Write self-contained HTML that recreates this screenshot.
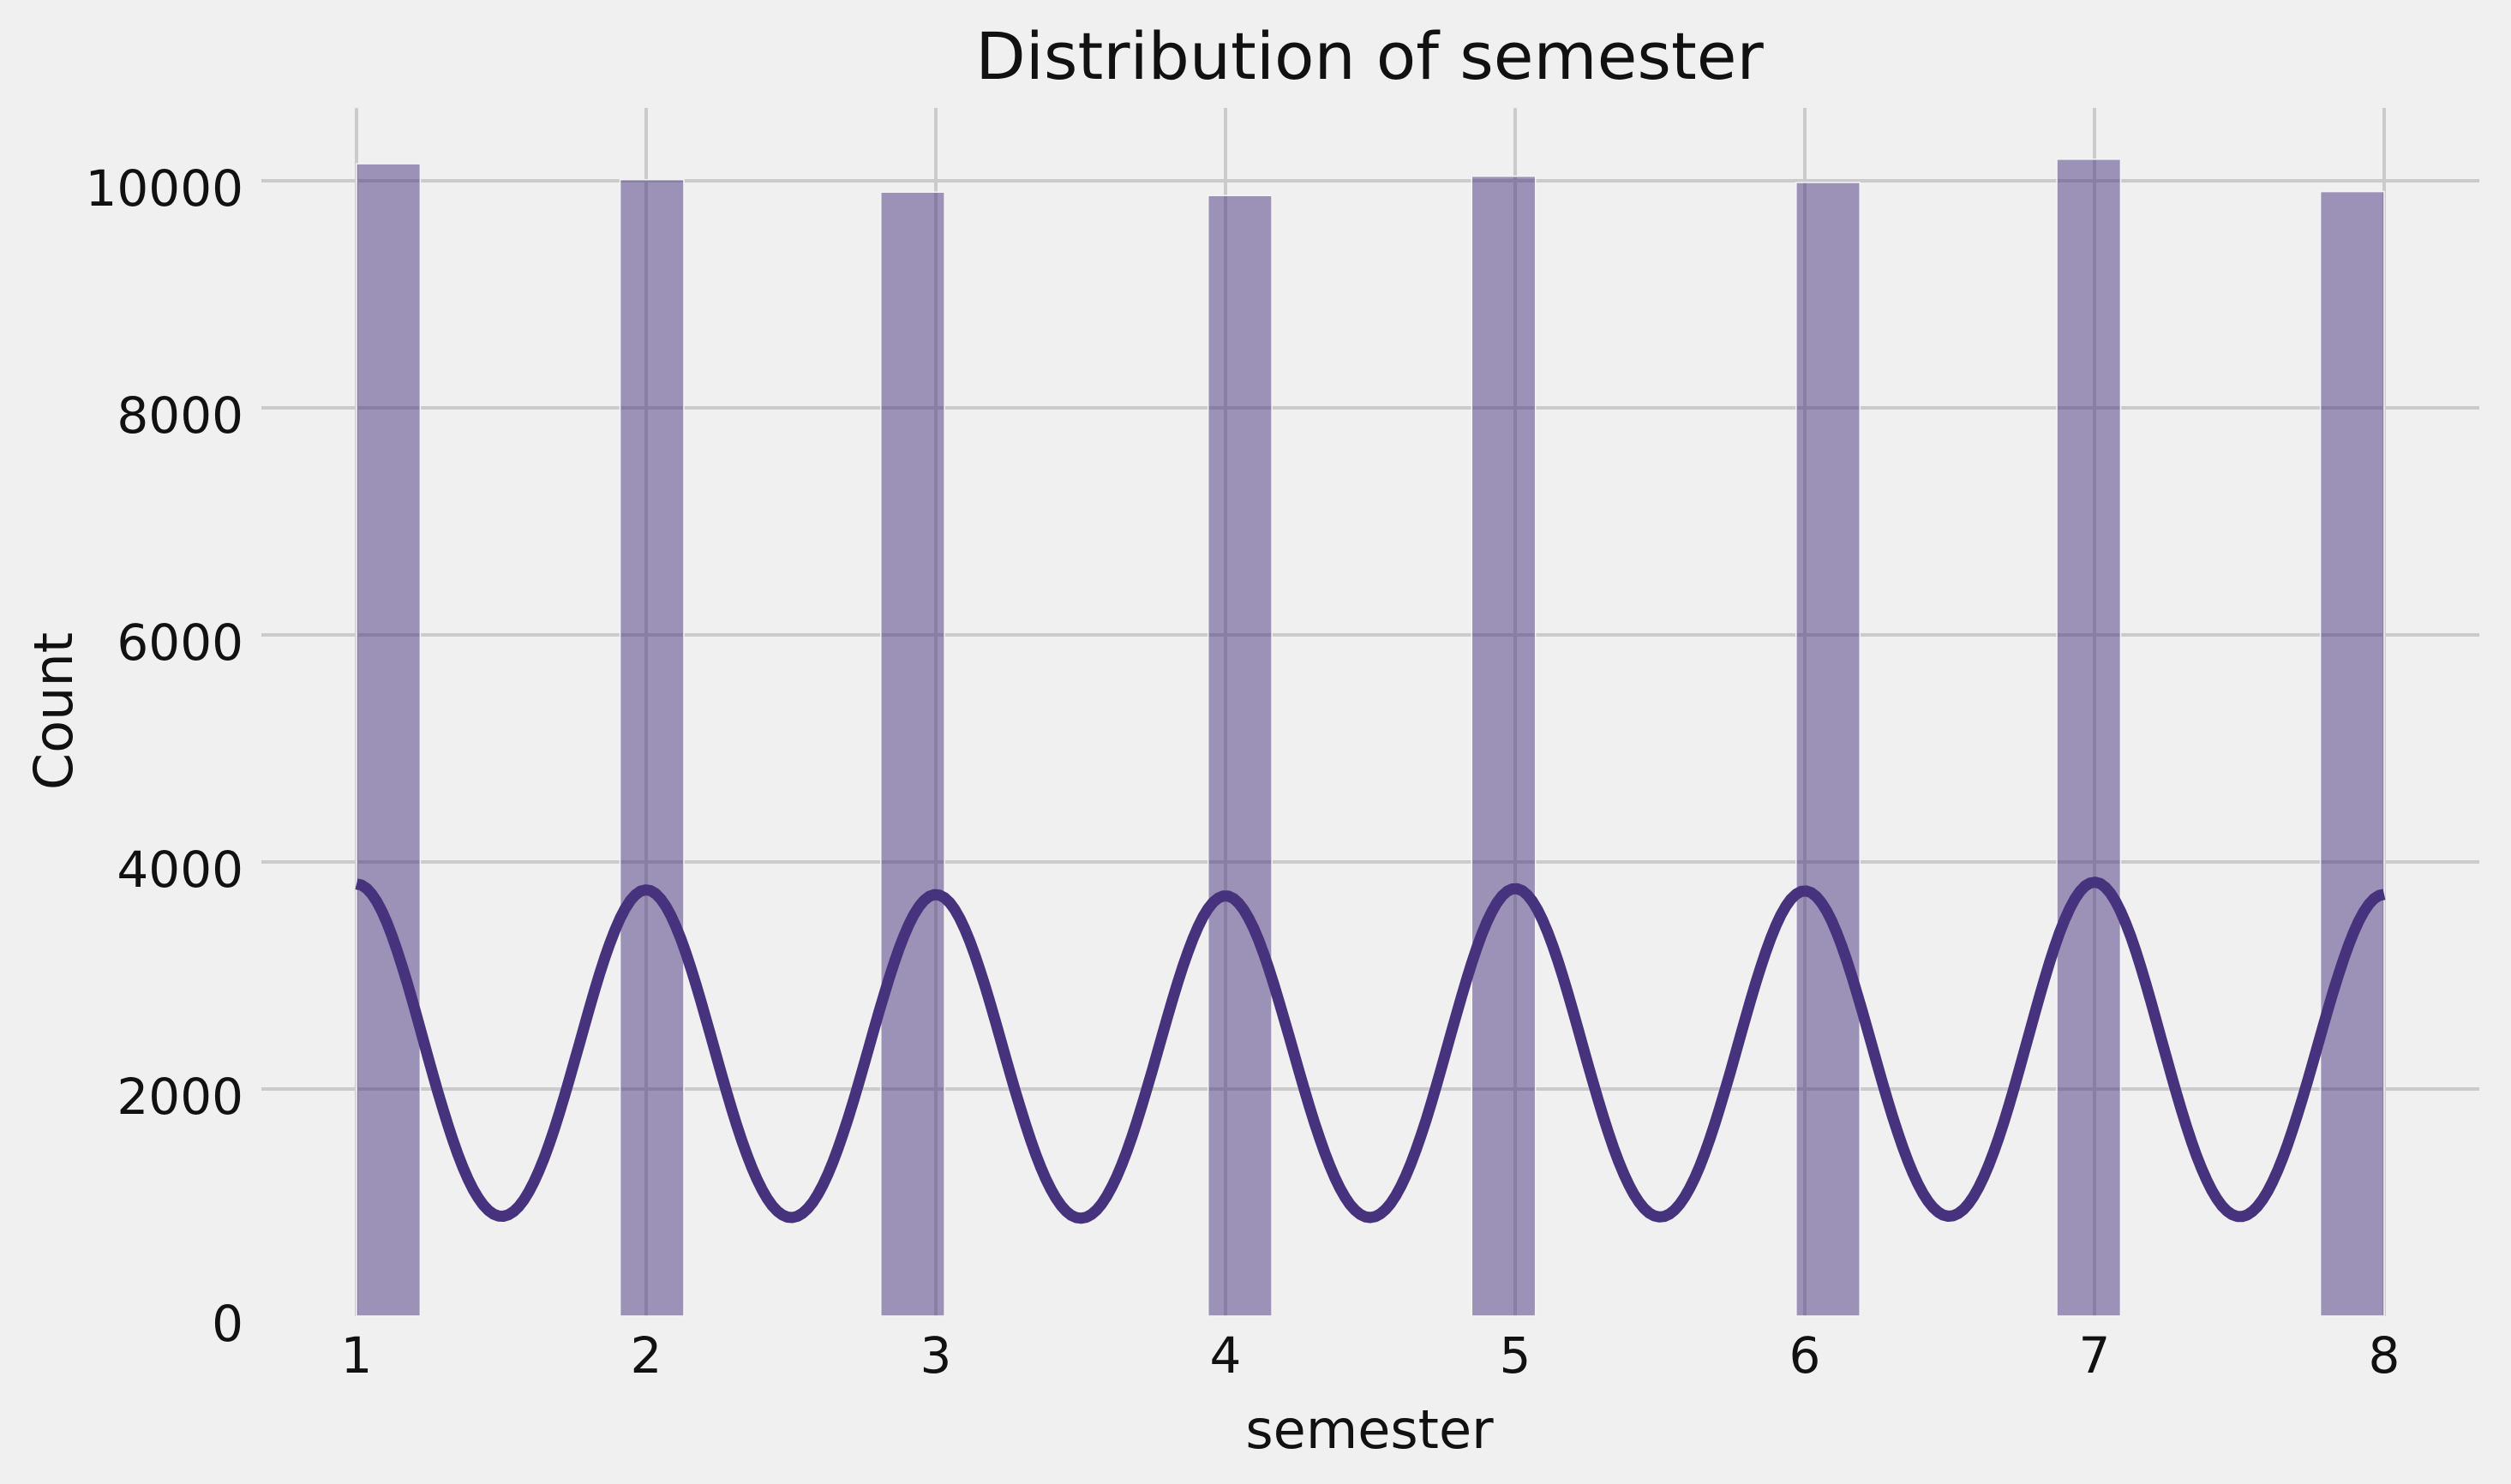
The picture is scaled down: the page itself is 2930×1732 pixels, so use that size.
<!DOCTYPE html>
<html><head><meta charset="utf-8"><style>
html,body{margin:0;padding:0;background:#f0f0f0;}
svg{display:block;font-family:"DejaVu Sans","Liberation Sans",sans-serif;}
</style></head><body>
<svg id="chart" width="2930" height="1732" viewBox="0 0 2930 1732">
<rect width="2930" height="1732" fill="#f0f0f0"/>
<g id="grid"></g>
<g id="bars"></g>
<g id="kde"></g>
<g id="ticks"></g>
<text x="1598" y="92" font-size="76" text-anchor="middle" fill="#111">Distribution of semester</text>
<text x="1598" y="1690" font-size="62" text-anchor="middle" fill="#111">semester</text>
<text x="0" y="0" font-size="62" text-anchor="middle" fill="#111" transform="translate(84,830) rotate(-90)">Count</text>
</svg>
<script>
const categories = [1, 2, 3, 4, 5, 6, 7, 8];
const binStarts = [1.0, 1.91, 2.81, 3.94, 4.85, 5.97, 6.87, 7.78];
const counts = [10150, 10010, 9900, 9870, 10040, 9985, 10190, 9905];
const xTicks = [1, 2, 3, 4, 5, 6, 7, 8];
const yTicks = [0, 2000, 4000, 6000, 8000, 10000];
const binWidth = 0.22;
const kdeBandwidth = 0.241;
const kdeScale = 0.2265;

const NS = "http://www.w3.org/2000/svg";
const X = v => 416 + (v - 1) * (2782 - 416) / 7;
const Y = v => 1536 - v * (1536 - 211) / 10000;
function mk(tag, attrs, parent) {
  const e = document.createElementNS(NS, tag);
  for (const k in attrs) e.setAttribute(k, attrs[k]);
  parent.appendChild(e);
  return e;
}
const grid = document.getElementById('grid');
yTicks.forEach(t => {
  if (t === 0) return;
  const l = mk('line', {x1: 305, x2: 2893, y1: Y(t), y2: Y(t), stroke: '#cbcbcb', 'stroke-width': 4}, grid);
  
  
});
xTicks.forEach(t => {
  const l = mk('line', {x1: X(t), x2: X(t), y1: 126, y2: 1536, stroke: '#cbcbcb', 'stroke-width': 4}, grid);
  
  
});
const bars = document.getElementById('bars');
counts.forEach((c, i) => {
  const x0 = X(binStarts[i]), x1 = X(binStarts[i] + binWidth);
  const r = mk('rect', {x: x0, y: Y(c), width: x1 - x0, height: Y(0) - Y(c), fill: '#47337d', 'fill-opacity': 0.5, stroke: '#f4f4f4', 'stroke-width': 1.5}, bars);
  
  
});
const kde = document.getElementById('kde');
let d = '';
const s = kdeBandwidth;
for (let k = 0; k <= 400; k++) {
  const x = 1 + 7 * k / 400;
  let v = 0;
  categories.forEach((c, i) => {
    v += counts[i] * Math.exp(-((x - c) ** 2) / (2 * s * s)) / (s * Math.sqrt(2 * Math.PI));
  });
  v *= kdeScale;
  d += (k ? 'L' : 'M') + X(x).toFixed(1) + ',' + Y(v).toFixed(1);
}
const p = mk('path', {d: d, fill: 'none', stroke: '#47337d', 'stroke-width': 13, 'stroke-linejoin': 'round'}, kde);


const ticks = document.getElementById('ticks');
xTicks.forEach(t => {
  const e = mk('text', {x: X(t), y: 1602, 'font-size': 58, 'text-anchor': 'middle', fill: '#111'}, ticks);
  e.textContent = t;
  
  
});
yTicks.forEach(t => {
  const e = mk('text', {x: 284, y: Y(t) + 29, 'font-size': 58, 'text-anchor': 'end', fill: '#111'}, ticks);
  e.textContent = t;
  
  
});
</script>
</body></html>
